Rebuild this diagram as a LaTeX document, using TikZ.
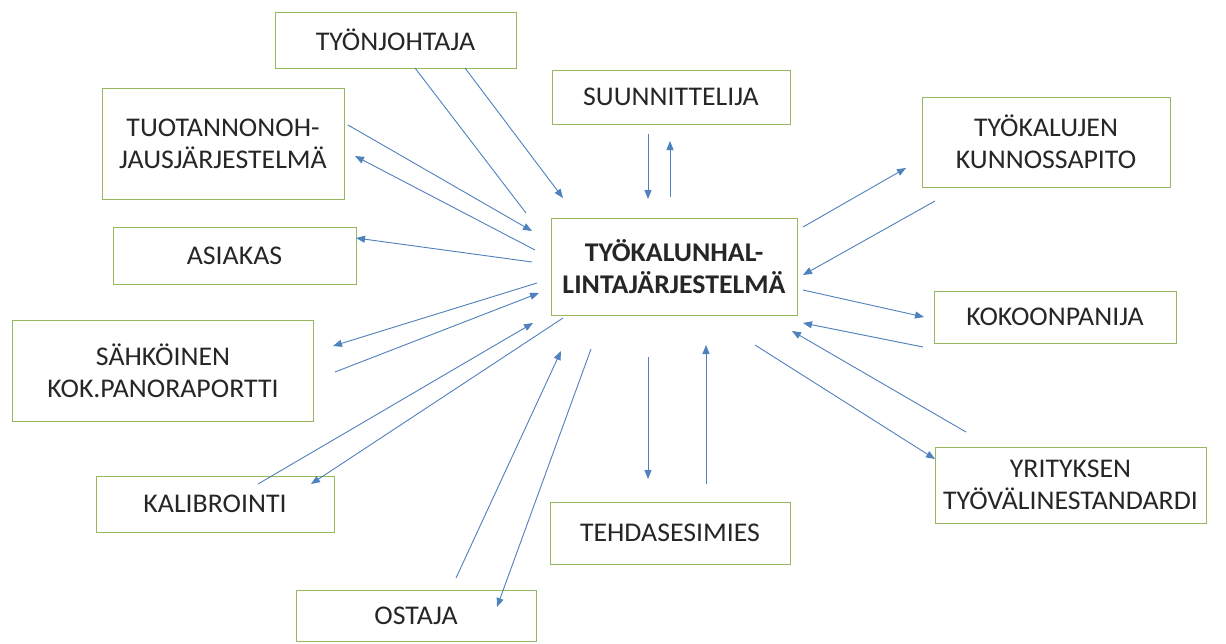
\documentclass[tikz,border=0pt]{standalone}
\usepackage{fontspec}
\setmainfont{Carlito}[FakeStretch=1.03]
\usetikzlibrary{arrows.meta}
\definecolor{boxgreen}{RGB}{150,185,95}
\definecolor{arrblue}{RGB}{79,129,189}
\begin{document}
\begin{tikzpicture}[x=1pt,y=-1pt,
  box/.style={draw=boxgreen, line width=1pt, fill=white, align=center, inner sep=0pt,
    font=\fontsize{27}{32}\selectfont, text=black!85},
  arr/.style={draw=arrblue, line width=0.9pt, -{Triangle[length=9pt,width=7pt]}},
  ln/.style={draw=arrblue, line width=0.9pt}]
\useasboundingbox[fill=white] (0,0) rectangle (1226,643);
% boxes
\node[box, minimum width=241, minimum height=56] (tyon) at (395.5,40) {TYÖNJOHTAJA};
\node[box, minimum width=238, minimum height=54] (suun) at (671,97) {SUUNNITTELIJA};
\node[box, minimum width=242, minimum height=111] (tuot) at (223,143.5) {TUOTANNONOH-\\JAUSJÄRJESTELMÄ};
\node[box, minimum width=248, minimum height=90] (tyok) at (1046,142) {TYÖKALUJEN\\KUNNOSSAPITO};
\node[box, minimum width=243, minimum height=57] (asia) at (234.5,255.5) {ASIAKAS};
\node[box, minimum width=246, minimum height=97, font=\fontsize{27}{32}\selectfont\bfseries] (cent) at (674,266.5) {TYÖKALUNHAL-\\LINTAJÄRJESTELMÄ};
\node[box, minimum width=242, minimum height=52] (koko) at (1055,317) {KOKOONPANIJA};
\node[box, minimum width=301, minimum height=101] (sahk) at (163,370.5) {SÄHKÖINEN\\KOK.PANORAPORTTI};
\node[box, minimum width=271, minimum height=76] (yrit) at (1070.5,485) {YRITYKSEN\\TYÖVÄLINESTANDARDI};
\node[box, minimum width=238, minimum height=56] (kali) at (215,504) {KALIBROINTI};
\node[box, minimum width=240, minimum height=62] (tehd) at (670,533) {TEHDASESIMIES};
\node[box, minimum width=240, minimum height=51] (osta) at (416,615.5) {OSTAJA};
% free ends of connectors
\coordinate (a1s) at (415,68);  \coordinate (a1e) at (526,213);
\coordinate (a2s) at (465,68);  \coordinate (a2e) at (563,198);
\coordinate (a3s) at (348,125); \coordinate (a3e) at (532,231);
\coordinate (a4s) at (535,250); \coordinate (a4e) at (355,156);
\coordinate (a5s) at (648,134); \coordinate (a5e) at (648,199);
\coordinate (a6s) at (670,197); \coordinate (a6e) at (670,141);
\coordinate (a7s) at (532,262); \coordinate (a7e) at (356,238);
\coordinate (a8s) at (537,283); \coordinate (a8e) at (333,346);
\coordinate (a9s) at (335,372); \coordinate (a9e) at (539,293);
\coordinate (b1s) at (258,484); \coordinate (b1e) at (533,323);
\coordinate (b2s) at (563,318); \coordinate (b2e) at (311,484);
\coordinate (b3s) at (456,578); \coordinate (b3e) at (561,351);
\coordinate (b4s) at (591,349); \coordinate (b4e) at (497,607);
\coordinate (b5s) at (648,357); \coordinate (b5e) at (648,479);
\coordinate (b6s) at (706,484); \coordinate (b6e) at (706,345);
\coordinate (c1s) at (803,227); \coordinate (c1e) at (906,168);
\coordinate (c2s) at (935,201); \coordinate (c2e) at (803,275);
\coordinate (c3s) at (803,290); \coordinate (c3e) at (924,317);
\coordinate (c4s) at (923,347); \coordinate (c4e) at (803,323);
\coordinate (c5s) at (966,432); \coordinate (c5e) at (792,331);
\coordinate (c6s) at (755,345); \coordinate (c6e) at (935,459);
% connectors
\draw[ln] (a1s) -- (a1e);
\draw[arr] (a2s) -- (a2e);
\draw[arr] (a3s) -- (a3e);
\draw[arr] (a4s) -- (a4e);
\draw[arr] (a5s) -- (a5e);
\draw[arr] (a6s) -- (a6e);
\draw[arr] (a7s) -- (a7e);
\draw[arr] (a8s) -- (a8e);
\draw[arr] (a9s) -- (a9e);
\draw[arr] (b1s) -- (b1e);
\draw[arr] (b2s) -- (b2e);
\draw[arr] (b3s) -- (b3e);
\draw[arr] (b4s) -- (b4e);
\draw[arr] (b5s) -- (b5e);
\draw[arr] (b6s) -- (b6e);
\draw[arr] (c1s) -- (c1e);
\draw[arr] (c2s) -- (c2e);
\draw[arr] (c3s) -- (c3e);
\draw[arr] (c4s) -- (c4e);
\draw[arr] (c5s) -- (c5e);
\draw[arr] (c6s) -- (c6e);
\end{tikzpicture}
\end{document}
